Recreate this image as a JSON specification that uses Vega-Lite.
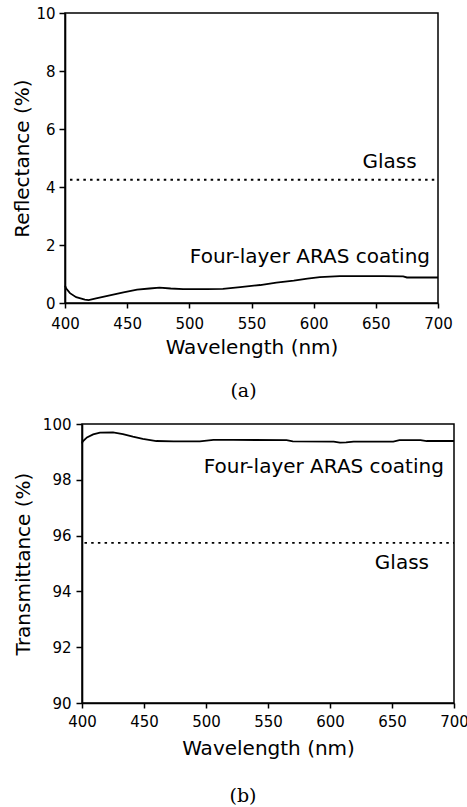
{
  "$schema": "https://vega.github.io/schema/vega-lite/v6.json",
  "padding": {"left": 11, "top": 5, "right": 0, "bottom": 0},
  "autosize": {"type": "pad"},
  "background": "white",
  "spacing": 14,
  "config": {
    "font": "DejaVu Sans",
    "view": {"stroke": "black", "strokeWidth": 1.5},
    "axis": {
      "grid": false,
      "domainColor": "black", "domainWidth": 1.6,
      "tickColor": "black", "tickWidth": 1.5, "tickSize": 6,
      "labelColor": "black", "labelFont": "DejaVu Sans", "labelFontSize": 15,
      "labelFlush": false, "labelOverlap": false, "labelBound": false,
      "titleColor": "black", "titleFont": "DejaVu Sans", "titleFontSize": 20, "titleFontWeight": "normal"
    },
    "title": {"font": "DejaVu Serif", "fontSize": 19, "fontWeight": "normal", "color": "black", "orient": "bottom"}
  },
  "datasets": {
    "none": [],
    "reflect": [
      {"wavelength": 400, "reflectance": 0.6},
      {"wavelength": 401, "reflectance": 0.5},
      {"wavelength": 404, "reflectance": 0.34},
      {"wavelength": 409, "reflectance": 0.2},
      {"wavelength": 416, "reflectance": 0.12},
      {"wavelength": 419, "reflectance": 0.1},
      {"wavelength": 425, "reflectance": 0.16},
      {"wavelength": 436, "reflectance": 0.26},
      {"wavelength": 447, "reflectance": 0.37},
      {"wavelength": 458, "reflectance": 0.46},
      {"wavelength": 468, "reflectance": 0.5},
      {"wavelength": 476, "reflectance": 0.53},
      {"wavelength": 485, "reflectance": 0.5},
      {"wavelength": 495, "reflectance": 0.48},
      {"wavelength": 514, "reflectance": 0.48},
      {"wavelength": 527, "reflectance": 0.49},
      {"wavelength": 541, "reflectance": 0.55},
      {"wavelength": 557, "reflectance": 0.62},
      {"wavelength": 570, "reflectance": 0.7},
      {"wavelength": 584, "reflectance": 0.77},
      {"wavelength": 595, "reflectance": 0.84},
      {"wavelength": 605, "reflectance": 0.89},
      {"wavelength": 621, "reflectance": 0.93},
      {"wavelength": 637, "reflectance": 0.93},
      {"wavelength": 656, "reflectance": 0.93},
      {"wavelength": 672, "reflectance": 0.92},
      {"wavelength": 675, "reflectance": 0.88},
      {"wavelength": 700, "reflectance": 0.88}
    ],
    "glassR": [
      {"wavelength": 404, "reflectance": 4.25},
      {"wavelength": 700, "reflectance": 4.25}
    ],
    "labelsR": [
      {"wavelength": 661, "reflectance": 4.85, "label": "Glass"},
      {"wavelength": 597, "reflectance": 1.6, "label": "Four-layer ARAS coating"}
    ],
    "trans": [
      {"wavelength": 400, "transmittance": 99.3},
      {"wavelength": 400.5, "transmittance": 99.37},
      {"wavelength": 404, "transmittance": 99.52},
      {"wavelength": 409, "transmittance": 99.63},
      {"wavelength": 414.5, "transmittance": 99.69},
      {"wavelength": 425, "transmittance": 99.7},
      {"wavelength": 433, "transmittance": 99.64},
      {"wavelength": 441, "transmittance": 99.55},
      {"wavelength": 449, "transmittance": 99.47},
      {"wavelength": 460, "transmittance": 99.39},
      {"wavelength": 474, "transmittance": 99.38},
      {"wavelength": 495, "transmittance": 99.38},
      {"wavelength": 506, "transmittance": 99.43},
      {"wavelength": 522, "transmittance": 99.43},
      {"wavelength": 565, "transmittance": 99.42},
      {"wavelength": 570, "transmittance": 99.38},
      {"wavelength": 603, "transmittance": 99.37},
      {"wavelength": 608, "transmittance": 99.33},
      {"wavelength": 613, "transmittance": 99.34},
      {"wavelength": 619, "transmittance": 99.37},
      {"wavelength": 651, "transmittance": 99.37},
      {"wavelength": 656, "transmittance": 99.42},
      {"wavelength": 673, "transmittance": 99.42},
      {"wavelength": 678, "transmittance": 99.39},
      {"wavelength": 700, "transmittance": 99.39}
    ],
    "glassT": [
      {"wavelength": 402, "transmittance": 95.74},
      {"wavelength": 700, "transmittance": 95.74}
    ],
    "labelsT": [
      {"wavelength": 658, "transmittance": 95.01, "label": "Glass"},
      {"wavelength": 595, "transmittance": 98.47, "label": "Four-layer ARAS coating"}
    ]
  },
  "vconcat": [
    {
      "spacing": 0,
      "hconcat": [
        {
          "data": {"name": "none"},
          "width": 1,
          "height": 1,
          "view": {"stroke": null},
          "mark": {"type": "rule"},
          "encoding": {}
        },
        {
          "title": {"text": "(a)", "offset": 25, "dx": -8},
          "width": 373,
          "height": 290,
          "layer": [
            {
              "data": {"name": "reflect"},
              "mark": {"type": "line", "color": "black", "strokeWidth": 1.8},
              "encoding": {
                "x": {"field": "wavelength", "type": "quantitative", "scale": {"domain": [400, 700], "nice": false},
                      "axis": {"title": "Wavelength (nm)", "values": [400, 450, 500, 550, 600, 650, 700], "tickSize": 5, "labelPadding": 8, "titlePadding": 6}},
                "y": {"field": "reflectance", "type": "quantitative", "scale": {"domain": [0, 10], "nice": false},
                      "axis": {"title": "Reflectance (%)", "values": [0, 2, 4, 6, 8, 10], "labelPadding": 4, "titlePadding": 3}}
              }
            },
            {
              "data": {"name": "glassR"},
              "mark": {"type": "line", "color": "black", "strokeWidth": 1.8, "strokeDash": [2.5, 4.2]},
              "encoding": {
                "x": {"field": "wavelength", "type": "quantitative"},
                "y": {"field": "reflectance", "type": "quantitative"}
              }
            },
            {
              "data": {"name": "labelsR"},
              "mark": {"type": "text", "font": "DejaVu Sans", "fontSize": 20, "color": "black"},
              "encoding": {
                "x": {"field": "wavelength", "type": "quantitative"},
                "y": {"field": "reflectance", "type": "quantitative"},
                "text": {"field": "label"}
              }
            }
          ]
        }
      ]
    },
    {
      "spacing": 0,
      "hconcat": [
        {
          "data": {"name": "none"},
          "width": 1,
          "height": 1,
          "view": {"stroke": null},
          "mark": {"type": "rule"},
          "encoding": {}
        },
        {
          "title": {"text": "(b)", "offset": 29, "dx": -25},
          "width": 372,
          "height": 279,
          "layer": [
            {
              "data": {"name": "trans"},
              "mark": {"type": "line", "color": "black", "strokeWidth": 1.8},
              "encoding": {
                "x": {"field": "wavelength", "type": "quantitative", "scale": {"domain": [400, 700], "nice": false},
                      "axis": {"title": "Wavelength (nm)", "values": [400, 450, 500, 550, 600, 650, 700], "tickSize": 5, "labelPadding": 6, "titlePadding": 9}},
                "y": {"field": "transmittance", "type": "quantitative", "scale": {"domain": [90, 100], "nice": false, "zero": false},
                      "axis": {"title": "Transmittance (%)", "values": [90, 92, 94, 96, 98, 100], "labelPadding": 5, "titlePadding": 9}}
              }
            },
            {
              "data": {"name": "glassT"},
              "mark": {"type": "line", "color": "black", "strokeWidth": 1.8, "strokeDash": [2.5, 4.2]},
              "encoding": {
                "x": {"field": "wavelength", "type": "quantitative"},
                "y": {"field": "transmittance", "type": "quantitative"}
              }
            },
            {
              "data": {"name": "labelsT"},
              "mark": {"type": "text", "font": "DejaVu Sans", "fontSize": 20, "color": "black"},
              "encoding": {
                "x": {"field": "wavelength", "type": "quantitative"},
                "y": {"field": "transmittance", "type": "quantitative"},
                "text": {"field": "label"}
              }
            }
          ]
        }
      ]
    }
  ]
}
